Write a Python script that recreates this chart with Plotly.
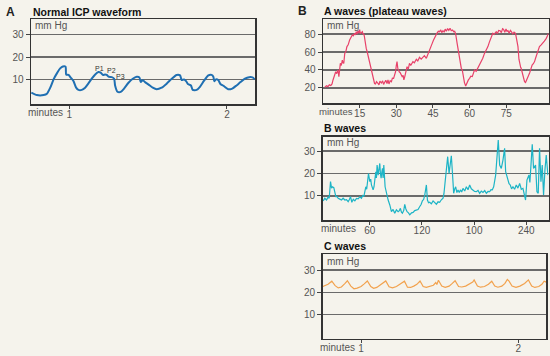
import plotly.graph_objects as go

# ---------------- data ----------------
# Panel A: normal ICP waveform (minutes, mm Hg)
icp_t = [0.760, 0.795, 0.838, 0.859, 0.880, 0.901, 0.922, 0.943, 0.960, 0.977, 0.981, 0.996,
         1.011, 1.027, 1.044, 1.059, 1.080, 1.101, 1.122, 1.143, 1.165, 1.186, 1.200, 1.213,
         1.228, 1.238, 1.249, 1.270, 1.285, 1.291, 1.306, 1.327, 1.348, 1.376, 1.403, 1.428,
         1.445, 1.454, 1.466, 1.481, 1.502, 1.530, 1.555, 1.586, 1.618, 1.650, 1.681, 1.703,
         1.713, 1.728, 1.741, 1.755, 1.772, 1.783, 1.808, 1.829, 1.854, 1.882, 1.903, 1.914,
         1.920, 1.930, 1.945, 1.960, 1.981, 2.008, 2.034, 2.061, 2.086, 2.114, 2.141, 2.162, 2.177]
icp_v = [4.1, 3.0, 3.0, 3.6, 6.3, 10.0, 12.7, 14.9, 15.8, 15.7, 12.2, 12.0,
         10.7, 9.3, 6.3, 5.3, 5.3, 6.3, 8.2, 10.3, 12.2, 13.3, 13.0, 12.0,
         12.2, 12.0, 11.2, 11.0, 10.3, 7.3, 4.5, 4.4, 5.9, 8.5, 10.3, 11.2,
         10.9, 8.8, 9.7, 8.8, 7.8, 6.3, 5.6, 6.3, 8.1, 10.3, 12.0, 11.8,
         9.7, 10.0, 9.2, 7.8, 7.3, 5.3, 5.3, 6.7, 9.3, 11.8, 12.0, 11.2,
         9.2, 10.0, 9.7, 7.8, 7.0, 5.6, 5.9, 7.3, 8.8, 10.3, 11.0, 10.9, 10.0]
icp_ticks = [1, 2]
peak_labels = ["P1", "P2", "P3"]
peak_t = [1.191, 1.266, 1.323]
peak_v = [14.9, 14.0, 11.2]

# Panel B1: A waves (plateau waves)
aw_t = [0.7, 1.4, 2.0, 2.6, 3.2, 3.7, 4.1, 4.6, 5.2, 5.6, 6.1, 6.5, 6.8, 7.1, 7.5, 7.9, 8.2, 8.5,
        8.9, 9.3, 9.8, 10.3, 10.9, 11.4, 12.0, 12.4, 12.9, 13.3, 13.6, 14.0, 14.3, 14.7, 15.0,
        15.3, 15.7, 16.1, 16.4, 16.6, 16.9, 17.1, 17.4, 17.7, 18.1, 18.5, 18.8, 19.1, 19.5,
        19.8, 20.2, 20.7, 21.1, 21.5, 21.9, 22.5, 22.9, 23.3, 23.9, 24.4, 24.8, 25.2, 25.7,
        26.2, 26.6, 27.0, 27.5, 28.0, 28.4, 28.9, 29.3, 29.7, 30.0, 30.3, 30.6, 30.8, 31.2,
        31.6, 32.0, 32.4, 32.8, 33.1, 33.5, 33.8, 34.4, 34.9, 35.4, 35.9, 36.8, 37.4, 38.2,
        38.8, 39.5, 40.2, 40.9, 41.5, 42.3, 42.9, 43.6, 44.2, 44.7, 45.2, 45.7, 46.2, 46.6,
        47.2, 47.7, 48.2, 48.6, 49.1, 49.6, 50.0, 50.5, 51.0, 51.5, 52.0, 52.5, 53.0, 53.5,
        53.9, 54.3, 54.9, 55.3, 55.6, 56.2, 56.6, 57.0, 57.5, 57.9, 58.4, 58.8, 59.1, 59.5,
        60.0, 60.5, 61.1, 61.6, 62.0, 62.7, 63.4, 64.1, 64.8, 65.4, 66.1, 66.8, 67.5, 68.1,
        68.6, 69.1, 69.5, 70.0, 70.5, 70.9, 71.4, 71.9, 72.5, 73.0, 73.5, 73.9, 74.4, 74.9,
        75.3, 75.7, 76.2, 76.7, 77.1, 77.7, 78.2, 78.8, 79.2, 79.8, 80.2, 80.5, 80.9, 81.1,
        81.5, 81.8, 82.2, 82.5, 82.9, 83.5, 84.0, 84.6, 85.1, 85.6, 86.1, 86.6, 87.0, 87.6,
        88.1, 88.6, 89.3, 90.0, 90.6, 91.4, 91.8, 92.3]
aw_v = [20.7, 22.5, 21.5, 23.5, 22.8, 24.5, 28.9, 33.0, 38.0, 36.0, 40.0, 32.6, 44.0, 47.4, 45.0, 51.0, 48.0, 47.4,
        58.5, 60.0, 66.0, 68.0, 73.3, 76.0, 79.0, 78.0, 80.7, 79.0, 82.6, 80.0, 83.7, 81.0, 85.0,
        80.5, 82.0, 82.6, 79.5, 80.7, 78.0, 73.3, 70.0, 64.0, 60.0, 54.8, 52.0, 49.3, 45.6,
        40.0, 34.4, 27.0, 25.0, 24.4, 27.0, 25.2, 23.5, 27.5, 25.5, 28.0, 24.0, 26.0, 28.5,
        25.0, 29.0, 24.5, 28.0, 27.0, 31.0, 30.7, 34.0, 38.0, 45.0, 49.3, 42.0, 40.0, 38.0,
        37.0, 35.0, 32.6, 34.0, 29.0, 33.0, 38.0, 43.7, 41.0, 47.4, 45.0, 49.3, 48.0, 51.9,
        50.0, 54.0, 52.0, 54.8, 56.0, 53.0, 56.7, 63.0, 66.0, 69.6, 73.0, 76.3, 78.0, 80.7,
        83.0, 82.6, 84.5, 81.5, 83.7, 82.0, 85.5, 83.0, 86.0, 84.0, 86.5, 83.7, 84.5, 82.6,
        83.0, 80.0, 69.6, 63.0, 58.5, 45.6, 42.0, 40.0, 30.7, 26.0, 22.2, 25.0, 27.0, 29.0,
        30.7, 33.0, 32.6, 36.0, 40.0, 38.5, 41.9, 45.0, 49.3, 53.0, 58.5, 62.0, 66.0, 71.0,
        75.2, 78.0, 80.7, 79.5, 82.0, 82.6, 80.5, 84.0, 83.7, 81.5, 86.0, 85.2, 82.0, 85.5,
        83.0, 83.7, 81.0, 84.0, 82.6, 80.0, 82.0, 80.7, 75.0, 66.0, 52.0, 45.6, 43.0, 41.9,
        37.0, 34.4, 30.0, 27.0, 26.0, 29.0, 33.0, 37.0, 42.0, 45.6, 47.0, 49.3, 53.0, 58.5,
        62.0, 66.0, 68.0, 69.6, 72.0, 75.2, 78.0, 80.7]
aw_ticks = [15, 30, 45, 60, 75]

# Panel B2: B waves
bw_t = [6.4, 8.2, 10.2, 12.0, 13.3, 14.8, 16.0, 17.1, 18.6, 20.0, 20.9, 22.2, 23.6, 25.5, 27.4,
        29.3, 31.3, 33.2, 35.1, 36.5, 37.8, 39.3, 41.0, 42.8, 44.7, 46.6, 48.5, 50.4, 51.8,
        53.1, 54.3, 55.4, 56.4, 57.3, 58.5, 60.0, 61.0, 61.9, 63.8, 64.8, 65.7, 66.9, 67.6,
        68.4, 69.6, 70.5, 71.5, 72.2, 73.0, 73.8, 74.6, 75.3, 76.1, 77.6, 79.2, 80.2, 81.1,
        83.0, 84.0, 84.9, 86.8, 88.7, 90.6, 92.6, 94.0, 95.2, 96.4, 97.5, 99.0, 100.2, 101.5,
        102.9, 104.5, 106.0, 108.0, 109.8, 111.7, 113.6, 115.5, 117.5, 119.0, 120.5, 122.0,
        123.2, 125.1, 126.3, 127.6, 128.9, 130.8, 132.8, 134.7, 136.6, 138.5, 140.4, 142.3,
        144.3, 145.3, 146.2, 147.2, 148.1, 149.6, 151.2, 152.7, 153.8, 155.0, 156.5, 157.6,
        158.8, 160.2, 161.5, 162.9, 164.2, 165.7, 167.2, 169.2, 171.1, 173.0, 174.9, 176.8,
        178.7, 180.6, 182.6, 184.5, 186.4, 188.3, 190.2, 192.2, 194.1, 196.0, 197.9, 199.4,
        200.9, 202.5, 204.8, 206.3, 207.8, 209.4, 211.3, 213.2, 215.1, 216.3, 217.6, 218.9,
        220.2, 221.6, 223.1, 224.7, 226.6, 228.5, 230.4, 232.4, 234.3, 236.2, 237.7, 239.2,
        240.8, 243.1, 244.2, 245.4, 246.9, 248.4, 250.7, 252.3, 253.8, 255.3, 256.9, 258.4,
        259.9, 261.5, 263.0, 264.9]
bw_v = [7.8, 9.0, 8.2, 9.5, 9.0, 16.4, 13.5, 14.1, 13.7, 11.0, 9.7, 9.8, 9.0, 8.6, 8.2,
        9.0, 8.2, 8.4, 7.5, 8.4, 9.7, 7.2, 8.5, 7.8, 8.9, 8.7, 9.6, 9.0, 10.2,
        9.7, 11.5, 14.1, 13.0, 17.1, 20.0, 16.4, 17.5, 14.9, 12.7, 14.0, 16.4, 20.8, 18.0,
        23.8, 19.3, 21.0, 24.5, 20.0, 17.9, 20.5, 22.3, 18.0, 23.8, 14.1, 11.2, 10.0, 8.2,
        6.0, 4.5, 3.0, 4.0, 2.3, 3.8, 3.0, 3.5, 4.5, 2.8, 2.3, 3.5, 6.3, 4.2,
        3.0, 2.5, 1.6, 2.5, 2.7, 3.5, 3.8, 4.0, 5.3, 6.2, 7.8, 8.5,
        10.4, 14.9, 8.2, 7.0, 7.2, 6.5, 7.8, 6.8, 6.3, 7.4, 7.2, 8.3,
        9.0, 11.0, 14.9, 18.0, 23.8, 27.5, 20.0, 26.0, 27.9, 20.8, 11.2, 13.0,
        14.1, 11.5, 12.7, 11.5, 12.7, 11.8, 13.4, 12.2, 14.1, 12.8, 14.9, 13.2,
        12.7, 12.0, 11.9, 12.5, 11.2, 12.2, 11.6, 12.4, 11.2, 12.0, 11.9, 12.8,
        12.7, 14.1, 19.3, 26.7, 34.9, 23.8, 22.3, 26.0, 31.2, 20.8, 19.0, 17.1,
        15.5, 14.9, 13.2, 14.1, 13.0, 14.9, 13.5, 15.6, 13.0, 13.4, 11.0, 8.2,
        17.1, 19.3, 16.0, 23.8, 33.0, 22.3, 23.8, 11.9, 11.2, 31.2, 16.4, 23.8,
        10.4, 21.6, 28.2, 19.3]
bw_ticks = [60, 120, 180, 240]
bw_ticktext = ["60", "120", "100", "240"]

# Panel B3: C waves
cw_t = [0.757, 0.790, 0.814, 0.835, 0.855, 0.875, 0.895, 0.913, 0.935, 0.955, 0.975, 1.000,
        1.020, 1.040, 1.062, 1.080, 1.100, 1.125, 1.145, 1.157, 1.178, 1.200, 1.225, 1.250,
        1.276, 1.295, 1.315, 1.335, 1.355, 1.375, 1.395, 1.415, 1.440, 1.460, 1.475, 1.482,
        1.492, 1.513, 1.535, 1.560, 1.580, 1.598, 1.620, 1.640, 1.665, 1.690, 1.710, 1.719,
        1.740, 1.760, 1.785, 1.810, 1.831, 1.850, 1.870, 1.895, 1.915, 1.930, 1.941, 1.960,
        1.985, 2.010, 2.040, 2.064, 2.085, 2.105, 2.130, 2.150, 2.164, 2.177]
cw_v = [22.6, 23.6, 25.0, 23.0, 22.0, 22.4, 23.8, 25.2, 22.8, 21.6, 21.9, 22.6,
        23.8, 25.1, 22.6, 21.8, 22.2, 23.3, 24.4, 25.1, 22.5, 22.0, 22.6, 23.6,
        25.0, 22.3, 22.2, 22.8, 23.6, 25.1, 22.6, 22.2, 22.6, 23.2, 24.4, 23.5,
        25.4, 22.8, 22.2, 22.8, 24.0, 25.2, 22.6, 22.4, 22.8, 23.8, 24.6, 25.6,
        22.8, 22.3, 22.6, 23.6, 25.0, 22.8, 22.3, 22.8, 24.0, 25.8, 25.0, 22.8,
        22.2, 22.8, 24.0, 25.6, 22.8, 22.2, 22.6, 23.6, 25.0, 24.6]
cw_ticks = [1, 2]

mmhg_ticks = [10, 20, 30]
aw_yticks = [20, 40, 60, 80]

# ---------------- figure ----------------
W, H = 550, 356
FONT = "Liberation Sans, Arial, sans-serif"
BG = "#f5f3ec"

def px(x):
    return x / W

def py(y):
    return 1 - y / H

fig = go.Figure()
fig.add_trace(go.Scatter(x=icp_t, y=icp_v, mode="lines", line=dict(color="#1f6fb2", width=2, shape="spline", smoothing=0.6),
                         xaxis="x", yaxis="y", showlegend=False))
fig.add_trace(go.Scatter(x=aw_t, y=aw_v, mode="lines", line=dict(color="#e8426a", width=1.2),
                         xaxis="x2", yaxis="y2", showlegend=False))
fig.add_trace(go.Scatter(x=bw_t, y=bw_v, mode="lines", line=dict(color="#1db4c6", width=1.2),
                         xaxis="x3", yaxis="y3", showlegend=False))
fig.add_trace(go.Scatter(x=cw_t, y=cw_v, mode="lines", line=dict(color="#f2a24e", width=1.2),
                         xaxis="x4", yaxis="y4", showlegend=False))

def xax(dom, rng, tv, tt=None, anchor="y"):
    d = dict(domain=dom, range=rng, tickvals=tv, ticks="outside", ticklen=3, tickwidth=1,
             tickcolor="#444", showgrid=False, zeroline=False, showline=True, mirror=True,
             linecolor="#333", linewidth=1.5, tickfont=dict(family=FONT, size=10, color="#555"),
             anchor=anchor, fixedrange=True, automargin=False, ticklabelstandoff=-3)
    if tt is not None:
        d["ticktext"] = tt
    return d

def yax(dom, rng, tv, anchor="x"):
    return dict(domain=dom, range=rng, tickvals=tv, ticks="outside", ticklen=4, tickwidth=1,
                tickcolor="#444", showgrid=True, gridcolor="#6a6a6a", gridwidth=1.2, zeroline=False,
                showline=True, mirror=True, linecolor="#333", linewidth=1.5,
                tickfont=dict(family=FONT, size=10, color="#555"), anchor=anchor, fixedrange=True,
                automargin=False)

fig.update_layout(
    width=W, height=H, margin=dict(l=0, r=0, t=0, b=0, autoexpand=False),
    paper_bgcolor=BG, plot_bgcolor=BG,
    xaxis=xax([px(31), px(255)], [0.758, 2.178], icp_ticks, anchor="y"),
    yaxis=yax([py(104), py(19)], [-1, 37], mmhg_ticks, anchor="x"),
    xaxis2=xax([px(323), px(548.5)], [0, 92.3], aw_ticks, anchor="y2"),
    yaxis2=yax([py(103), py(19)], [3.3, 96.7], aw_yticks, anchor="x2"),
    xaxis3=xax([px(322.7), px(548.5)], [5.8, 265.6], bw_ticks, bw_ticktext, anchor="y3"),
    yaxis3=yax([py(220), py(136.7)], [-0.7, 36.4], mmhg_ticks, anchor="x3"),
    xaxis4=xax([px(322.7), px(546)], [0.756, 2.176], cw_ticks, anchor="y4"),
    yaxis4=yax([py(338.7), py(254)], [-0.8, 37.2], mmhg_ticks, anchor="x4"),
)

ann = []
def text(x, y, s, size=10, color="#555", bold=False, xanchor="left"):
    ann.append(dict(x=px(x), y=py(y), xref="paper", yref="paper", text=("<b>%s</b>" % s) if bold else s,
                    showarrow=False, xanchor=xanchor, yanchor="middle",
                    font=dict(family=FONT, size=size, color=color)))

# panel letters and titles
text(4, 12, "A", size=12, color="#222", bold=True)
text(31, 12, "Normal ICP waveform", size=10.5, color="#111", bold=True)
text(296, 11, "B", size=12, color="#222", bold=True)
text(322, 11, "A waves (plateau waves)", size=10.5, color="#111", bold=True)
text(322, 128, "B waves", size=10.5, color="#111", bold=True)
text(322, 246, "C waves", size=10.5, color="#111", bold=True)

# units
text(33, 26, "mm Hg")
text(325, 25, "mm Hg")
text(325, 142.5, "mm Hg")
text(325, 261, "mm Hg")

# "minutes" axis labels
text(26, 112, "minutes")
text(355, 111, "minutes", size=9.6, xanchor="right")
text(319, 228, "minutes")
text(318, 347, "minutes")

# P1 P2 P3 labels
for lab, t, v in zip(peak_labels, peak_t, peak_v):
    ann.append(dict(x=t, y=v, xref="x", yref="y", text=lab, showarrow=False,
                    xanchor="center", yanchor="middle", font=dict(family=FONT, size=7, color="#333")))

fig.update_layout(annotations=ann)
fig.write_html("out.html", config={"displayModeBar": False, "staticPlot": True},
               post_script="document.body.style.margin='0';document.body.style.padding='0';")
